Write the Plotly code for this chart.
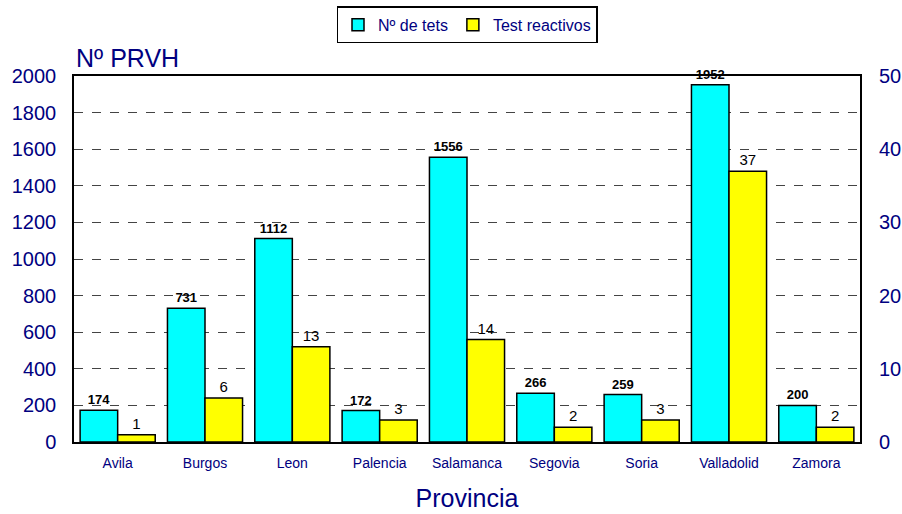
import plotly.graph_objects as go

provincias = ["Avila", "Burgos", "Leon", "Palencia", "Salamanca", "Segovia", "Soria", "Valladolid", "Zamora"]
n_tests = [174, 731, 1112, 172, 1556, 266, 259, 1952, 200]
reactivos = [1, 6, 13, 3, 14, 2, 3, 37, 2]

NAVY = "#000080"

fig = go.Figure()
fig.add_trace(go.Bar(
    x=provincias, y=n_tests, name="Nº de tets", offsetgroup="a",
    marker=dict(color="#00FFFF", line=dict(color="black", width=1.5)),
    text=n_tests, texttemplate="<b>%{y}</b>", textposition="outside",
    textfont=dict(family="Arial", size=13, color="black"), cliponaxis=False,
))
fig.add_trace(go.Bar(
    x=provincias, y=reactivos, name="Test reactivos", yaxis="y2", offsetgroup="b",
    marker=dict(color="#FFFF00", line=dict(color="black", width=1.5)),
    text=reactivos, textposition="outside",
    textfont=dict(family="Arial", size=15, color="black"), cliponaxis=False,
))

fig.update_layout(
    width=902, height=514,
    margin=dict(l=74, r=42, t=76, b=72, autoexpand=False),
    paper_bgcolor="white", plot_bgcolor="white",
    font=dict(family="Arial", color=NAVY),
    barmode="group", bargap=0.14, bargroupgap=0,
    showlegend=True,
    legend=dict(
        orientation="h", x=0.5, xanchor="center", y=1.19, yanchor="top",
        bordercolor="black", borderwidth=1.5, bgcolor="white",
        font=dict(size=16, color=NAVY), itemwidth=30, tracegroupgap=0,
    ),
    xaxis=dict(
        showline=True, linecolor="black", linewidth=1.5, mirror=True,
        tickfont=dict(size=14, color=NAVY), ticks="", ticklabelstandoff=7,
        title=dict(text="Provincia", font=dict(size=25, color=NAVY), standoff=20),
    ),
    yaxis=dict(
        range=[0, 2000], dtick=200, showline=True, linecolor="black", linewidth=1.5,
        mirror=True, showgrid=True, gridcolor="#444", griddash="dash", gridwidth=1,
        tickfont=dict(size=20, color=NAVY), ticks="", zeroline=False,
        ticklabelstandoff=12,
    ),
    yaxis2=dict(
        range=[0, 50], dtick=10, overlaying="y", side="right", showgrid=False,
        tickfont=dict(size=20, color=NAVY), ticks="", zeroline=False,
        ticklabelstandoff=18,
    ),
    annotations=[dict(
        text="Nº PRVH", xref="paper", yref="paper", x=0, y=1.0, xanchor="left",
        yanchor="bottom", yshift=2, showarrow=False, font=dict(size=25, color=NAVY),
    )],
)

# drop the default page margin so the figure fills the window exactly
fig.write_html(
    "out.html",
    config={"displayModeBar": False},
    post_script="document.body.style.margin='0';document.body.style.overflow='hidden';",
)
